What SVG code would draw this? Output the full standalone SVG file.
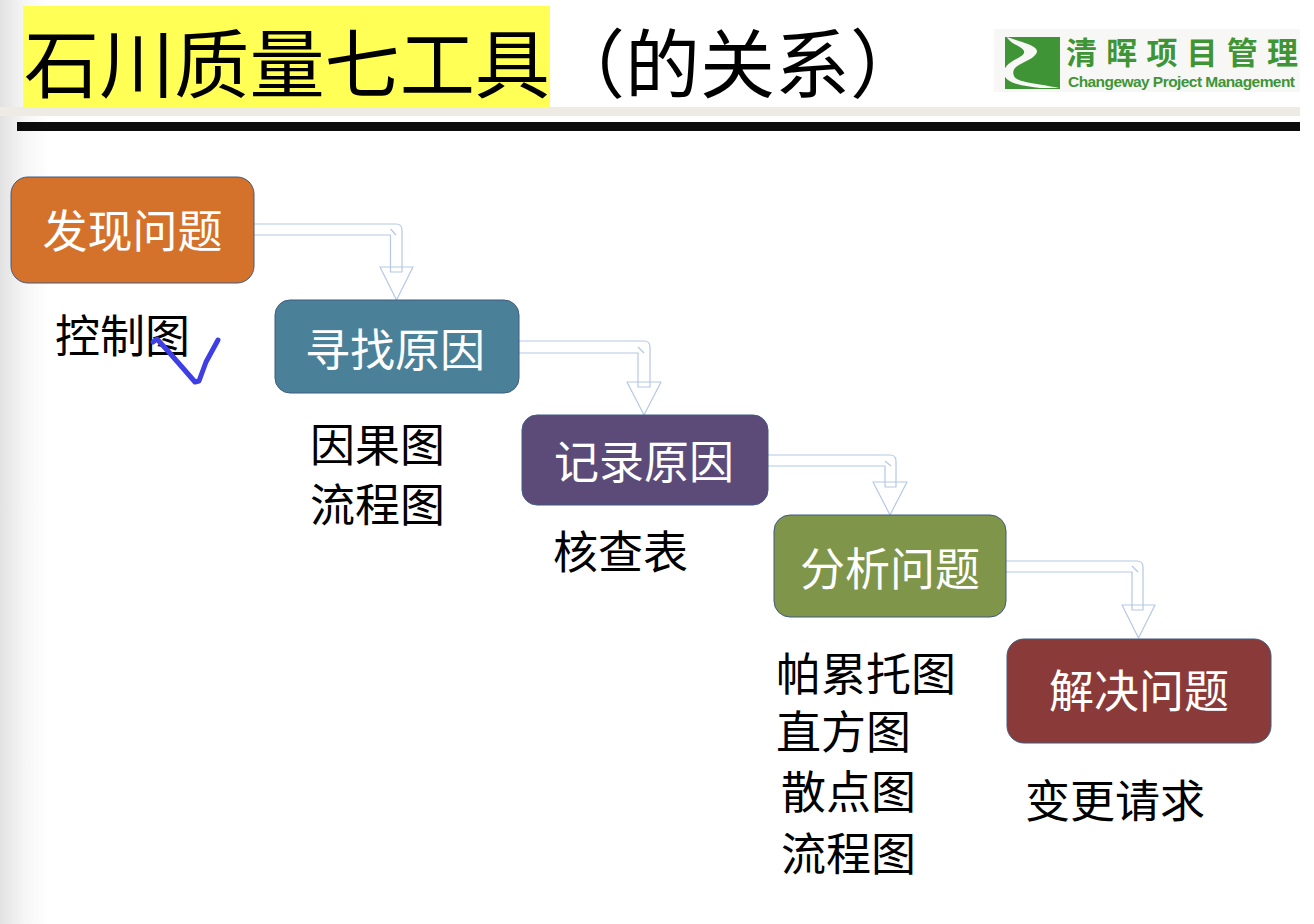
<svg xmlns="http://www.w3.org/2000/svg" width="1314" height="924" viewBox="0 0 1314 924">
<style>
text{font-family:"Noto Sans CJK SC","Noto Sans",sans-serif}
.title{font-size:75px;fill:#000}
.lab{font-size:45px;fill:#000}
.nt{font-size:45px;fill:#fff;text-anchor:middle}
.node{stroke:#3f5a80;stroke-width:1}
.c{fill:none;stroke:#b4c8e6;stroke-width:1.2;stroke-linejoin:round}
</style>
<defs>
<linearGradient id="side" x1="0" y1="0" x2="1" y2="0"><stop offset="0" stop-color="#e2e2e2"/><stop offset="0.5" stop-color="#f6f6f6"/><stop offset="1" stop-color="#fff"/></linearGradient>
</defs>
<rect width="1314" height="924" fill="#fff"/>
<rect width="50" height="924" fill="url(#side)"/>
<rect x="0" y="107" width="1300" height="9" fill="#eeebe4"/>
<rect x="17" y="122" width="1283" height="9" fill="#0c0c0c"/>
<rect x="23" y="6" width="527" height="101" fill="#ffff55"/>
<g id="title"><text class="title" x="24" y="92" textLength="526" lengthAdjust="spacingAndGlyphs">石川质量七工具</text><text class="title" x="550" y="92">（的关系）</text></g>
<g id="logo">
<rect x="994" y="29" width="306" height="63" fill="#f7f8f6"/>
<path d="M1005 37H1060V89H1005Z" fill="#3f9535"/>
<path d="M1007 37C1020 42 1042 46 1036 54C1030 63 1009 64 1014 76C1017 83 1040 84 1059 88L1040 88C1025 86 1003 84 1004 72C1005 60 1026 58 1024 51C1022 46 1010 44 1007 37Z" fill="#f7f8f6"/>
<text x="1066" y="64" font-size="31" font-weight="700" fill="#3f9535" textLength="232">清晖项目管理</text>
<text x="1068" y="87" font-size="15.500" font-weight="700" fill="#3f9535" style="font-family:'Liberation Sans',sans-serif" textLength="227">Changeway Project Management</text>
</g>
<g id="connectors">
<path class="c" d="M254 224H396Q402 224 402 230V272H390.500V235H254"/><path class="c" d="M380 267H413L396.500 300Z"/><path class="c" d="M390.500 229L396 235"/>
<path class="c" d="M519 341H644Q650 341 650 347V387H638V353H519"/><path class="c" d="M627 382H661L644 415Z"/><path class="c" d="M638 347L644 353"/>
<path class="c" d="M768 455H890Q896 455 896 461V487H885V466H768"/><path class="c" d="M873 482H907L890 515Z"/><path class="c" d="M885 461L891 466"/>
<path class="c" d="M1006 561H1137Q1143 561 1143 567V610H1132V572H1006"/><path class="c" d="M1122 605H1155L1138.500 638Z"/><path class="c" d="M1132 566L1138 572"/>
</g>
<g id="n1"><rect class="node" x="11" y="177" width="243" height="106" rx="17" fill="#d4722c"/><text class="nt" x="132.500" y="248">发现问题</text></g>
<g id="n2"><rect class="node" x="275" y="300" width="244" height="93" rx="15" fill="#4a8199"/><text class="nt" x="395" y="367">寻找原因</text></g>
<g id="n3"><rect class="node" x="522" y="415" width="246" height="90" rx="15" fill="#5c4b78"/><text class="nt" x="644" y="479">记录原因</text></g>
<g id="n4"><rect class="node" x="774" y="515" width="232" height="102" rx="16" fill="#7f9549"/><text class="nt" x="890" y="586">分析问题</text></g>
<g id="n5"><rect class="node" x="1007" y="639" width="264" height="104" rx="17" fill="#8a3b39"/><text class="nt" x="1139" y="708">解决问题</text></g>
<g id="labels">
<text class="lab" x="55" y="353">控制图</text>
<text class="lab" x="310" y="462">因果图</text>
<text class="lab" x="310" y="522">流程图</text>
<text class="lab" x="553" y="569">核查表</text>
<text class="lab" x="776" y="691">帕累托图</text>
<text class="lab" x="776" y="749">直方图</text>
<text class="lab" x="781" y="809">散点图</text>
<text class="lab" x="781" y="871">流程图</text>
<text class="lab" x="1025" y="818">变更请求</text>
</g>
<path id="check" d="M153 342L157 339L167 350L182 367L195 382L199 381L206 362L218 340" fill="none" stroke="#3e3ee6" stroke-width="5" stroke-linecap="round" stroke-linejoin="round"/>
</svg>
